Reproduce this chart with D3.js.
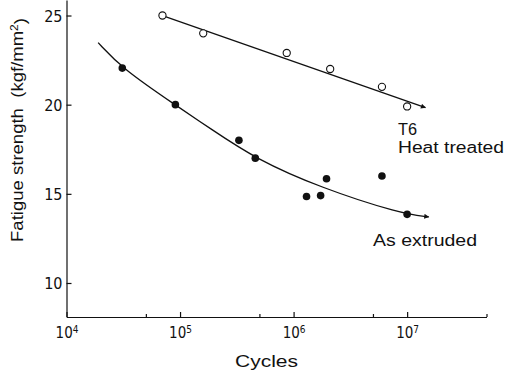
<!DOCTYPE html>
<html lang="en">
<head>
    <meta charset="UTF-8">
    <title>Fatigue strength vs cycles</title>
    <script src="https://d3js.org/d3.v7.min.js"></script>
    <style>
        body {
            margin: 0;
            background-color: white;
        }
        svg text {
            font-family: "Liberation Sans", Arial, sans-serif;
            fill: #111;
        }
        .tick text {
            font-family: "Liberation Sans Narrow", "DejaVu Sans Condensed", sans-serif;
        }
    </style>
</head>
<body>
    <svg id="chart" width="510" height="374"></svg>

    <script>
        // T6 heat treated (open circles)
        const t6Cycles = [7e4, 1.6e5, 8.7e5, 2.1e6, 6e6, 1e7];
        const t6Strength = [25, 24, 22.9, 22.0, 21.0, 19.9];
        const t6LineCycles = [7e4, 1.45e7];
        const t6LineStrength = [25, 19.83];

        // As extruded (filled circles)
        const extCycles = [3.1e4, 9.1e4, 3.3e5, 4.6e5, 1.3e6, 1.73e6, 1.95e6, 6e6, 1e7];
        const extStrength = [22.05, 20, 18, 17, 14.85, 14.9, 15.85, 16.0, 13.85];
        const extCurveCycles = [1.9e4, 3.1e4, 9.3e4, 1.86e5, 4.6e5, 1.73e6, 8.8e6, 1.55e7];
        const extCurveStrength = [23.48, 22.02, 19.94, 18.65, 16.97, 15.34, 13.89, 13.71];

        // axes
        const yTicks = [10, 15, 20, 25];
        const xTicks = [1e4, 1e5, 1e6, 1e7];
        const xMinorTicks = [5e4, 5e5, 5e6, 5e7];

        const svg = d3.select("#chart");

        const x = d3.scaleLog().domain([1e4, 5e7]).range([66.5, 486.5]);
        const y = d3.scaleLinear().domain([8.093, 25.87]).range([317, 0]);

        // arrow marker for line ends
        svg.append("defs").append("marker")
            .attr("id", "arrow")
            .attr("viewBox", "0 0 10 10")
            .attr("refX", 9)
            .attr("refY", 5)
            .attr("markerWidth", 7)
            .attr("markerHeight", 5)
            .attr("markerUnits", "userSpaceOnUse")
            .attr("orient", "auto")
            .append("path")
            .attr("d", "M0,0L10,5L0,10z")
            .attr("fill", "#111");

        // y axis
        const yAxis = d3.axisLeft(y)
            .tickValues(yTicks)
            .tickSizeInner(-5)
            .tickSizeOuter(0)
            .tickPadding(4);
        const gy = svg.append("g")
            .attr("transform", "translate(66.5,0)")
            .call(yAxis);
        gy.selectAll(".tick text").style("font-size", "16px").attr("dy", "0.36em");

        // x axis, major ticks with superscript labels
        const xAxis = d3.axisBottom(x)
            .tickValues(xTicks)
            .tickSizeInner(-5)
            .tickSizeOuter(0)
            .tickPadding(10)
            .tickFormat(() => "");
        const gx = svg.append("g")
            .attr("transform", "translate(0,317)")
            .call(xAxis);
        gx.selectAll(".tick text").each(function (d) {
            const t = d3.select(this).style("font-size", "15px").attr("dy", "0.71em");
            t.append("tspan").text("10");
            t.append("tspan")
                .attr("dy", "-0.45em")
                .style("font-size", "10px")
                .text(Math.round(Math.log10(d)));
        });

        // minor ticks
        const xMinor = d3.axisBottom(x)
            .tickValues(xMinorTicks)
            .tickSizeInner(-3)
            .tickSizeOuter(0)
            .tickFormat(() => "");
        svg.append("g")
            .attr("transform", "translate(0,317)")
            .call(xMinor)
            .select(".domain").remove();

        svg.selectAll(".domain, .tick line")
            .attr("stroke", "#111")
            .attr("stroke-width", 1.2);

        // T6 straight fit line
        const t6Line = d3.line()
            .x(d => x(d[0]))
            .y(d => y(d[1]));
        svg.append("path")
            .datum(d3.zip(t6LineCycles, t6LineStrength))
            .attr("d", t6Line)
            .attr("fill", "none")
            .attr("stroke", "#111")
            .attr("stroke-width", 1.3)
            .attr("marker-end", "url(#arrow)");

        // As extruded curve (smoothed)
        const extLine = d3.line()
            .x(d => x(d[0]))
            .y(d => y(d[1]))
            .curve(d3.curveBasis);
        svg.append("path")
            .datum(d3.zip(extCurveCycles, extCurveStrength))
            .attr("d", extLine)
            .attr("fill", "none")
            .attr("stroke", "#111")
            .attr("stroke-width", 1.3)
            .attr("marker-end", "url(#arrow)");

        // points
        svg.append("g").selectAll("circle")
            .data(d3.zip(t6Cycles, t6Strength))
            .join("circle")
            .attr("cx", d => x(d[0]))
            .attr("cy", d => y(d[1]))
            .attr("r", 3.6)
            .attr("fill", "white")
            .attr("stroke", "#111")
            .attr("stroke-width", 1.1);

        svg.append("g").selectAll("circle")
            .data(d3.zip(extCycles, extStrength))
            .join("circle")
            .attr("cx", d => x(d[0]))
            .attr("cy", d => y(d[1]))
            .attr("r", 3.8)
            .attr("fill", "#111");

        // labels
        function label(txt, px, py, len) {
            svg.append("text")
                .attr("x", px)
                .attr("y", py)
                .attr("textLength", len)
                .attr("lengthAdjust", "spacingAndGlyphs")
                .style("font-size", "16px")
                .text(txt);
        }
        label("T6", 398, 135, 19);
        label("Heat treated", 398, 153, 106);
        label("As extruded", 373, 246, 104);
        label("Cycles", 235, 367, 63);

        svg.append("text")
            .attr("transform", "translate(23,242) rotate(-90)")
            .attr("textLength", 224)
            .attr("lengthAdjust", "spacingAndGlyphs")
            .style("font-size", "17px")
            .html('Fatigue strength&#160;&#160;(kgf/mm<tspan dy="-0.5em" font-size="11px">2</tspan><tspan dy="0.5em">)</tspan>');
    </script>
</body>
</html>
